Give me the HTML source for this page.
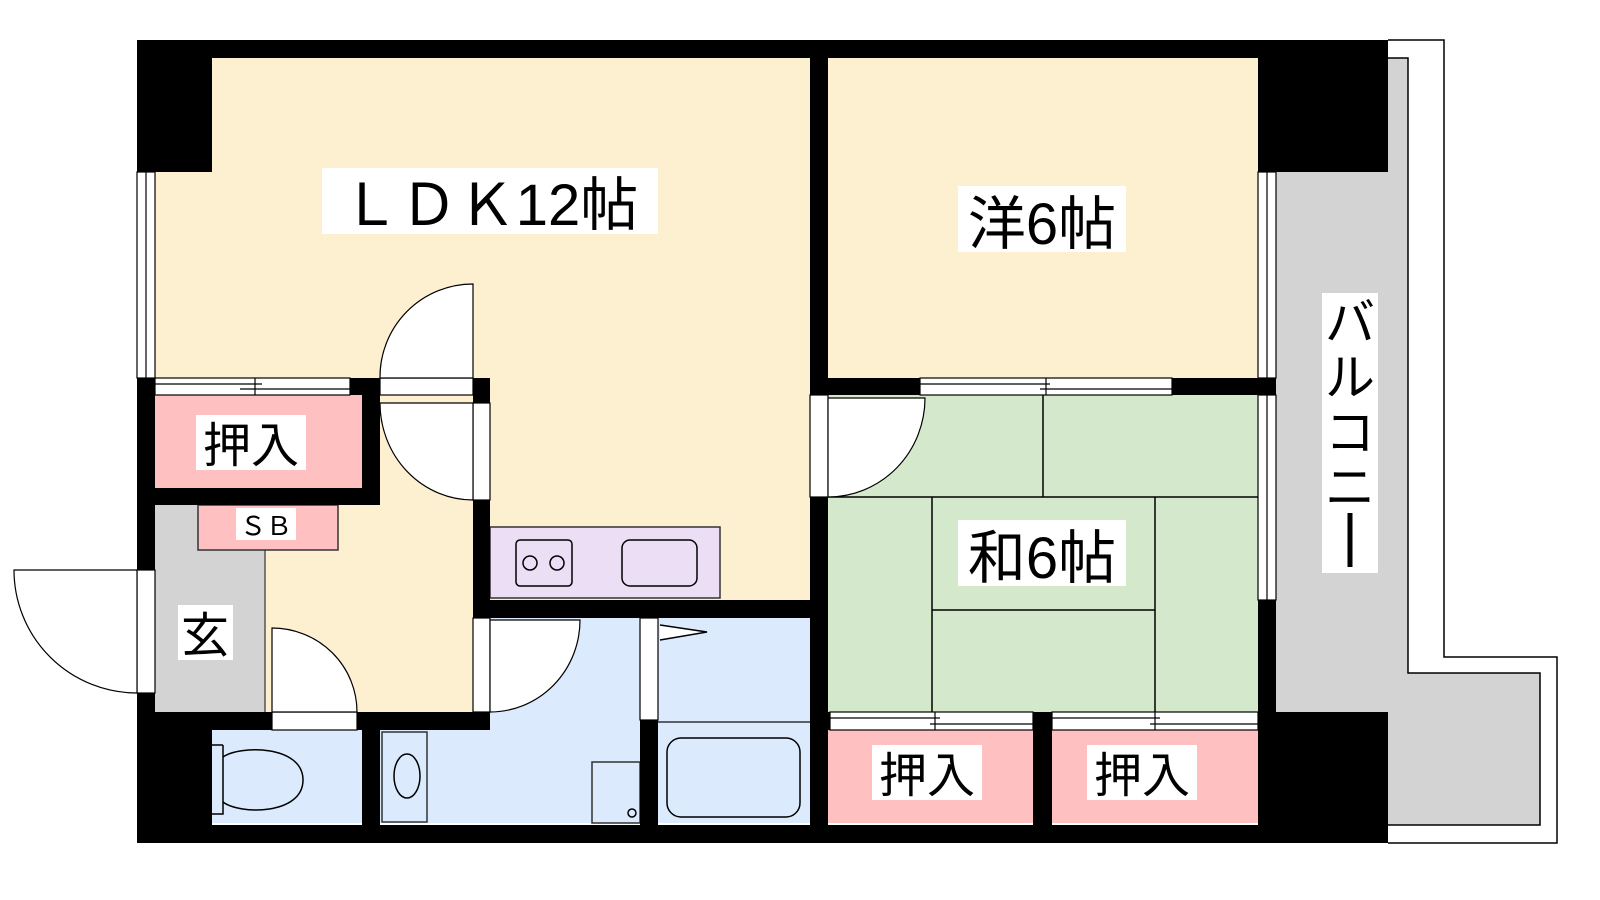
<!DOCTYPE html>
<html><head><meta charset="utf-8"><style>
html,body{margin:0;padding:0;background:#fff;width:1600px;height:900px;overflow:hidden}
svg{display:block}
text{font-family:"Liberation Sans","Noto Sans CJK JP",sans-serif;fill:#000}
</style></head><body>
<svg width="1600" height="900" viewBox="0 0 1600 900" xmlns="http://www.w3.org/2000/svg">
<!-- balcony -->
<path d="M1276 58 H1408 V673 H1540 V825 H1276 Z" fill="#d3d3d3"/>
<path d="M1388 40 H1444 V657 H1557 V843 H1388" fill="none" stroke="#000" stroke-width="1.5"/>
<path d="M1388 58 H1408 V673 H1540 V825 H1388" fill="none" stroke="#000" stroke-width="1.5"/>
<!-- rooms -->
<rect x="155" y="58" width="655" height="542" fill="#fdf0d0"/>
<rect x="828" y="58" width="430" height="320" fill="#fdf0d0"/>
<rect x="265" y="505" width="208" height="207" fill="#fdf0d0"/>
<rect x="828" y="395" width="430" height="317" fill="#d4e8cc"/>
<rect x="155" y="395" width="207" height="93" fill="#fec0c0"/>
<rect x="155" y="505" width="110" height="207" fill="#d3d3d3"/>
<line x1="265" y1="550" x2="265" y2="712" stroke="#555" stroke-width="1.5"/>
<rect x="198" y="505" width="140" height="45" fill="#fec0c0" stroke="#333" stroke-width="1.5"/>
<rect x="828" y="730" width="205" height="93" fill="#fec0c0"/>
<rect x="1052" y="730" width="206" height="93" fill="#fec0c0"/>
<rect x="490" y="527" width="230" height="71" fill="#ecdff5" stroke="#333" stroke-width="1.5"/>
<rect x="516" y="540" width="56" height="46" rx="4" fill="none" stroke="#000" stroke-width="1.5"/>
<circle cx="530" cy="563" r="7" fill="none" stroke="#000" stroke-width="1.5"/>
<circle cx="557" cy="563" r="7" fill="none" stroke="#000" stroke-width="1.5"/>
<rect x="622" y="540" width="75" height="46" rx="8" fill="none" stroke="#000" stroke-width="1.5"/>
<rect x="212" y="730" width="150" height="93" fill="#dbeafc"/>
<rect x="490" y="618" width="150" height="205" fill="#dbeafc"/>
<rect x="380" y="730" width="260" height="93" fill="#dbeafc"/>
<rect x="658" y="618" width="152" height="205" fill="#dbeafc"/>
<!-- fixtures -->
<path d="M223 745 V814 H212 M223 745 H212" fill="none" stroke="#000" stroke-width="1.5"/>
<path d="M223 757 C240 745 303 745 303 780 C303 815 240 815 223 802" fill="none" stroke="#000" stroke-width="1.5"/>
<rect x="382" y="732" width="45" height="90" fill="none" stroke="#333" stroke-width="1.5"/>
<ellipse cx="407" cy="776" rx="13" ry="22" fill="none" stroke="#000" stroke-width="1.5"/>
<rect x="592" y="762" width="48" height="61" fill="none" stroke="#333" stroke-width="1.5"/>
<circle cx="632" cy="813" r="4" fill="none" stroke="#000" stroke-width="1.5"/>
<line x1="658" y1="722" x2="810" y2="722" stroke="#333" stroke-width="1.5"/>
<rect x="667" y="738" width="133" height="79" rx="14" fill="none" stroke="#000" stroke-width="1.5"/>
<path d="M660 625 L707 632 L660 640" fill="#fff" stroke="#000" stroke-width="1.5"/>
<!-- tatami -->
<g stroke="#000" stroke-width="1.5">
<line x1="1043" y1="395" x2="1043" y2="497"/>
<line x1="828" y1="497" x2="1258" y2="497"/>
<line x1="932" y1="497" x2="932" y2="712"/>
<line x1="1155" y1="497" x2="1155" y2="712"/>
<line x1="932" y1="610" x2="1155" y2="610"/>
</g>
<!-- walls -->
<g fill="#000">
<rect x="137" y="40" width="1251" height="18"/>
<rect x="137" y="40" width="75" height="132"/>
<rect x="1258" y="40" width="130" height="132"/>
<rect x="137" y="825" width="1251" height="18"/>
<rect x="137" y="712" width="75" height="131"/>
<rect x="1258" y="712" width="130" height="131"/>
<rect x="137" y="378" width="18" height="192"/>
<rect x="137" y="693" width="18" height="30"/>
<rect x="350" y="378" width="30" height="17"/>
<rect x="362" y="378" width="18" height="127"/>
<rect x="155" y="488" width="225" height="17"/>
<rect x="473" y="378" width="17" height="25"/>
<rect x="473" y="500" width="17" height="118"/>
<rect x="473" y="600" width="355" height="18"/>
<rect x="810" y="58" width="18" height="320"/>
<rect x="810" y="378" width="110" height="17"/>
<rect x="1172" y="378" width="104" height="17"/>
<rect x="810" y="497" width="18" height="328"/>
<rect x="1258" y="600" width="18" height="112"/>
<rect x="137" y="712" width="135" height="18"/>
<rect x="357" y="712" width="133" height="18"/>
<rect x="362" y="712" width="18" height="113"/>
<rect x="640" y="720" width="18" height="105"/>
<rect x="1033" y="712" width="19" height="113"/>
<rect x="810" y="712" width="20" height="18"/>
</g>
<!-- windows / openings -->
<g fill="#fff" stroke="#000" stroke-width="1.2">
<rect x="137" y="172" width="18" height="206"/>
<line x1="146" y1="172" x2="146" y2="378"/>
<rect x="155" y="378" width="195" height="17"/>
<line x1="155" y1="384" x2="262" y2="384"/><line x1="240" y1="389" x2="350" y2="389"/><line x1="255" y1="378" x2="255" y2="395"/>
<rect x="380" y="378" width="93" height="17"/>
<rect x="473" y="403" width="17" height="97"/>
<rect x="137" y="570" width="18" height="123"/>
<rect x="920" y="378" width="252" height="17"/>
<line x1="920" y1="384" x2="1050" y2="384"/><line x1="1040" y1="389" x2="1172" y2="389"/><line x1="1046" y1="378" x2="1046" y2="395"/>
<rect x="1258" y="172" width="18" height="206"/>
<line x1="1267" y1="172" x2="1267" y2="378"/>
<rect x="1258" y="395" width="18" height="205"/>
<line x1="1267" y1="395" x2="1267" y2="600"/>
<rect x="810" y="395" width="18" height="102"/>
<rect x="830" y="712" width="203" height="18"/>
<line x1="830" y1="718" x2="940" y2="718"/><line x1="930" y1="724" x2="1033" y2="724"/><line x1="935" y1="712" x2="935" y2="730"/>
<rect x="1052" y="712" width="206" height="18"/>
<line x1="1052" y1="718" x2="1160" y2="718"/><line x1="1150" y1="724" x2="1258" y2="724"/><line x1="1155" y1="712" x2="1155" y2="730"/>
<rect x="272" y="712" width="85" height="18"/>
<rect x="473" y="618" width="17" height="94"/>
<rect x="640" y="618" width="18" height="102"/>
<path d="M473 378 V284 A93 93 0 0 0 380 378 Z"/>
<path d="M473 403 H380 A93 97 0 0 0 473 500 Z"/>
<path d="M828 398 H925 A97 99 0 0 1 828 497 Z"/>
<path d="M137 570 H14 A123 123 0 0 0 137 693 Z"/>
<path d="M272 712 V628 A85 84 0 0 1 357 712 Z"/>
<path d="M490 620 H580 A90 92 0 0 1 490 712 Z"/>
</g>
<!-- labels -->
<g fill="#fff">
<rect x="322" y="168" width="336" height="66"/>
<rect x="958" y="186" width="168" height="66"/>
<rect x="958" y="520" width="168" height="66"/>
<rect x="196" y="415" width="110" height="55"/>
<rect x="236" y="508" width="60" height="32"/>
<rect x="178" y="605" width="55" height="55"/>
<rect x="872" y="745" width="110" height="55"/>
<rect x="1087" y="745" width="110" height="55"/>
<rect x="1322" y="293" width="56" height="280"/>
</g>
<text x="490" y="225" font-size="58" text-anchor="middle">ＬＤＫ12帖</text>
<text x="1042" y="244" font-size="58" text-anchor="middle">洋6帖</text>
<text x="1042" y="578" font-size="58" text-anchor="middle">和6帖</text>
<text x="251" y="462" font-size="48" text-anchor="middle">押入</text>
<text x="266" y="535" font-size="26" text-anchor="middle">ＳＢ</text>
<text x="205" y="652" font-size="48" text-anchor="middle">玄</text>
<text x="927" y="792" font-size="48" text-anchor="middle">押入</text>
<text x="1142" y="792" font-size="48" text-anchor="middle">押入</text>
<g font-size="50" text-anchor="middle">
<text x="1350" y="340">バ</text>
<text x="1350" y="395">ル</text>
<text x="1350" y="450">コ</text>
<text x="1350" y="505">ニ</text>
</g>
<line x1="1350" y1="513" x2="1350" y2="567" stroke="#000" stroke-width="5"/>
</svg>
</body></html>
